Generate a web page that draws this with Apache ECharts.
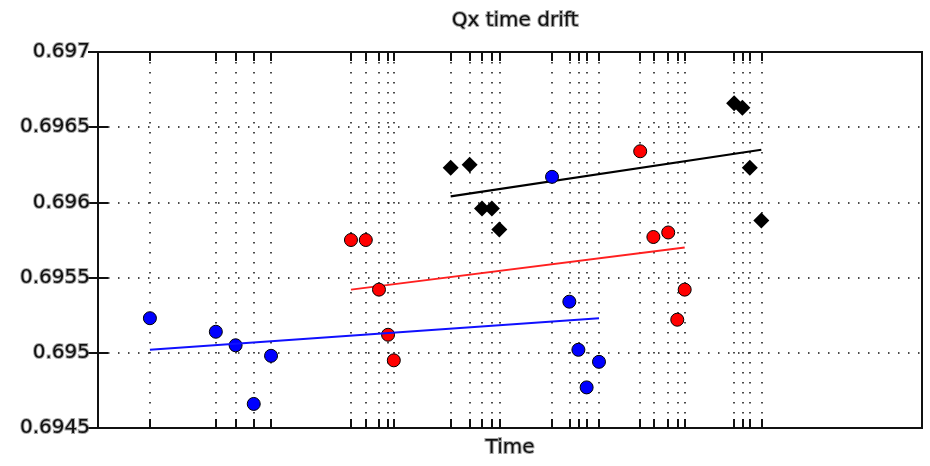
<!DOCTYPE html>
<html>
<head>
<meta charset="utf-8">
<title>Qx time drift</title>
<script src="https://cdn.jsdelivr.net/npm/echarts@6/dist/echarts.min.js"></script>
<style>
  html, body { margin: 0; padding: 0; background: #fff; }
  #chart { width: 930px; height: 466px; }
</style>
</head>
<body>
<div id="chart"></div>
<script>
// Measurement times (hours) and tune values for each run group
const blueTime  = [6.3, 14.3, 16.7, 18.9, 21.0, 55.1, 57.2, 58.3, 59.3, 60.8];
const blueQx    = [0.69523, 0.69514, 0.69505, 0.69466, 0.69498, 0.69617, 0.69534, 0.69502, 0.69477, 0.69494];
const redTime   = [30.7, 32.5, 34.1, 35.2, 35.9, 65.8, 67.4, 69.2, 70.3, 71.2];
const redQx     = [0.69575, 0.69575, 0.69542, 0.69512, 0.69495, 0.69634, 0.69577, 0.69580, 0.69522, 0.69542];
const blackTime = [42.8, 45.1, 46.6, 47.8, 48.7, 77.2, 78.2, 79.1, 80.5];
const blackQx   = [0.69623, 0.69625, 0.69596, 0.69596, 0.69582, 0.69666, 0.69663, 0.69623, 0.69588];

// Linear drift fits: [start time, end time] and [start Qx, end Qx]
const blueFitTime  = [6.3, 60.8];
const blueFitQx    = [0.69502, 0.69523];
const redFitTime   = [30.7, 71.2];
const redFitQx     = [0.69542, 0.69570];
const blackFitTime = [42.8, 80.5];
const blackFitQx   = [0.69604, 0.69635];

// Y axis ticks
const yTicks = [0.6945, 0.695, 0.6955, 0.696, 0.6965, 0.697];

const pairs = (xs, ys) => xs.map((x, i) => [x, ys[i]]);
const tickTimes = [...blueTime, ...redTime, ...blackTime].sort((a, b) => a - b);

const labelFont = {
  fontFamily: 'DejaVu Sans',
  fontSize: 20,
  color: '#111',
  textBorderColor: 'rgba(110,110,110,0.6)',
  textBorderWidth: 2
};
const dotted = { color: '#111', width: 1.5, type: [1.5, 8.5] };

const chart = echarts.init(document.getElementById('chart'), null, { renderer: 'canvas' });

chart.setOption({
  animation: false,
  backgroundColor: '#fff',
  title: {
    text: 'Qx time drift',
    left: 510,
    textAlign: 'center',
    top: 6,
    textStyle: Object.assign({}, labelFont, { fontWeight: 'normal' })
  },
  grid: {
    left: 98, right: 8, top: 52, bottom: 38,
    show: true,
    borderColor: '#111',
    borderWidth: 2,
    backgroundColor: '#fff'
  },
  xAxis: [{
    type: 'value',
    min: 0, max: 100,
    name: 'Time',
    nameLocation: 'middle',
    nameGap: 10,
    nameTextStyle: labelFont,
    axisLine: { show: true, lineStyle: { color: '#111', width: 2 } },
    axisTick: { show: true, inside: true, length: 9, customValues: tickTimes, lineStyle: { color: '#111', width: 2 } },
    axisLabel: { show: false },
    splitLine: { show: true, lineStyle: dotted }
  }, {
    type: 'value',
    position: 'top',
    min: 0, max: 100,
    axisLine: { show: true, lineStyle: { color: '#111', width: 2 } },
    axisTick: { show: true, inside: true, length: 9, customValues: tickTimes, lineStyle: { color: '#111', width: 2 } },
    axisLabel: { show: false },
    splitLine: { show: false }
  }],
  yAxis: [{
    type: 'value',
    min: yTicks[0], max: yTicks[yTicks.length - 1],
    interval: 0.0005,
    axisLine: { show: true, lineStyle: { color: '#111', width: 2 } },
    axisTick: { show: true, inside: true, length: 10, lineStyle: { color: '#111', width: 2 } },
    axisLabel: Object.assign({ margin: 8, formatter: v => String(+v.toFixed(4)) }, labelFont),
    splitLine: { show: true, lineStyle: dotted }
  }, {
    type: 'value',
    position: 'right',
    min: yTicks[0], max: yTicks[yTicks.length - 1],
    interval: 0.0005,
    axisLine: { show: true, lineStyle: { color: '#111', width: 2 } },
    axisTick: { show: true, inside: true, length: 10, lineStyle: { color: '#111', width: 2 } },
    axisLabel: { show: false },
    splitLine: { show: false }
  }],
  series: [
    {
      type: 'line', name: 'black fit', z: 2,
      data: pairs(blackFitTime, blackFitQx),
      symbol: 'none',
      lineStyle: { color: '#000', width: 2.2 }
    },
    {
      type: 'line', name: 'red fit', z: 2,
      data: pairs(redFitTime, redFitQx),
      symbol: 'none',
      lineStyle: { color: '#ff2020', width: 2 }
    },
    {
      type: 'scatter', name: 'black', z: 3,
      data: pairs(blackTime, blackQx),
      symbol: 'diamond', symbolSize: 16,
      itemStyle: { color: '#000', opacity: 1 }
    },
    {
      type: 'scatter', name: 'red', z: 3,
      data: pairs(redTime, redQx),
      symbol: 'circle', symbolSize: 13,
      itemStyle: { color: '#ff0000', borderColor: '#000', borderWidth: 1, opacity: 1 }
    },
    {
      type: 'scatter', name: 'blue', z: 3,
      data: pairs(blueTime, blueQx),
      symbol: 'circle', symbolSize: 13,
      itemStyle: { color: '#0000ff', borderColor: '#000', borderWidth: 1, opacity: 1 }
    },
    {
      type: 'line', name: 'blue fit', z: 4,
      data: pairs(blueFitTime, blueFitQx),
      symbol: 'none',
      lineStyle: { color: '#1010ff', width: 2 }
    }
  ]
});
</script>
</body>
</html>
